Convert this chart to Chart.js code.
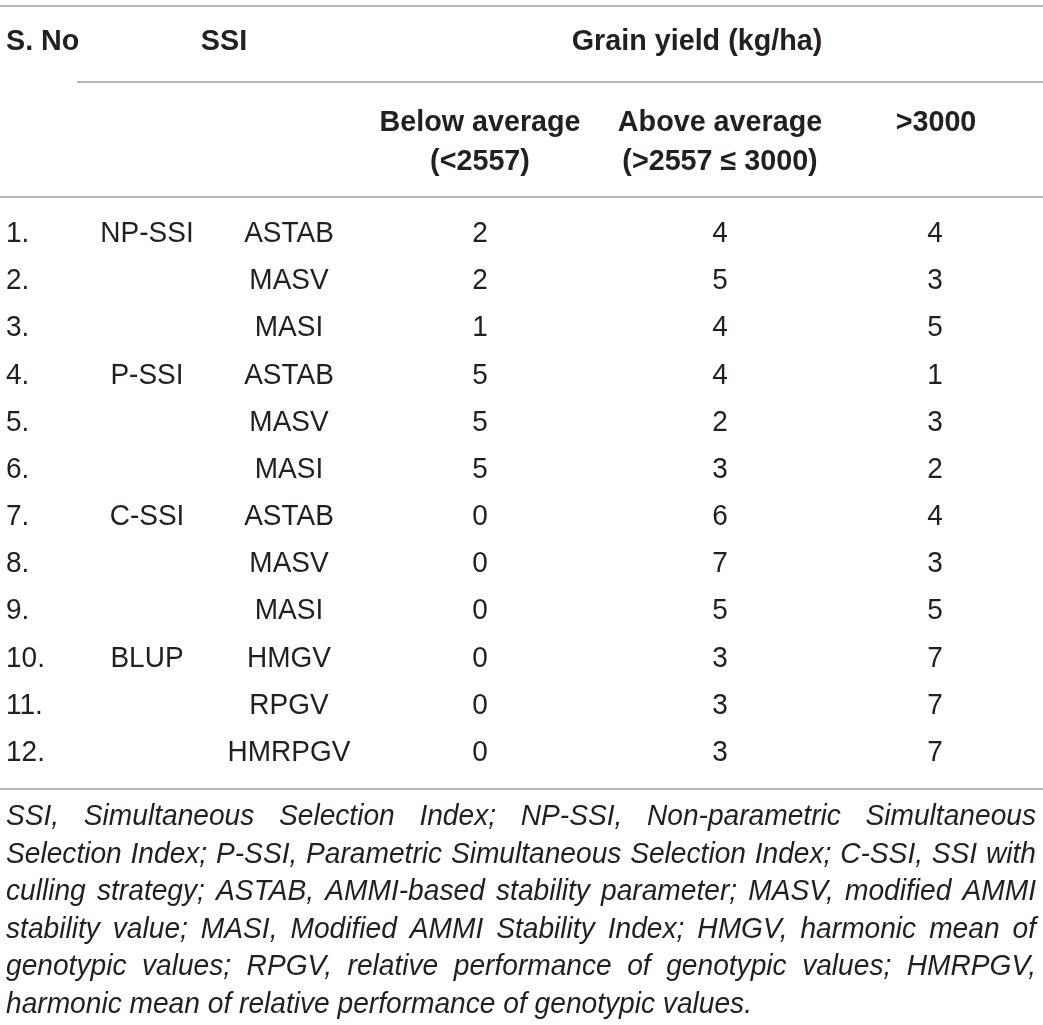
<!DOCTYPE html>
<html>
<head>
<meta charset="utf-8">
<script src="https://cdn.jsdelivr.net/npm/chart.js@4"></script>
<style>
  html, body { margin: 0; padding: 0; background: #ffffff; }
  #wrap { position: relative; width: 1043px; height: 1025px; }
  canvas { display: block; }
</style>
</head>
<body>
<div id="wrap"><canvas id="c" width="1043" height="1025"></canvas></div>
<script>
// ---------------- DATA ----------------
const serialNos   = ['1.', '2.', '3.', '4.', '5.', '6.', '7.', '8.', '9.', '10.', '11.', '12.'];
const ssiGroups   = ['NP-SSI', '', '', 'P-SSI', '', '', 'C-SSI', '', '', 'BLUP', '', ''];
const ssiIndices  = ['ASTAB', 'MASV', 'MASI', 'ASTAB', 'MASV', 'MASI', 'ASTAB', 'MASV', 'MASI', 'HMGV', 'RPGV', 'HMRPGV'];
const belowAverage = [2, 2, 1, 5, 5, 5, 0, 0, 0, 0, 0, 0];
const aboveAverage = [4, 5, 4, 4, 2, 3, 6, 7, 5, 3, 3, 3];
const above3000    = [4, 3, 5, 1, 3, 2, 4, 3, 5, 7, 7, 7];

const headSerial  = 'S. No';
const headSSI     = 'SSI';
const headGroup   = 'Grain yield (kg/ha)';
const headBelow   = ['Below average', '(<2557)'];
const headAbove   = ['Above average', '(>2557 \u2264 3000)'];
const headTop     = ['>3000'];

const footnoteLines = [
  'SSI, Simultaneous Selection Index; NP-SSI, Non-parametric Simultaneous',
  'Selection Index; P-SSI, Parametric Simultaneous Selection Index; C-SSI, SSI with',
  'culling strategy; ASTAB, AMMI-based stability parameter; MASV, modified AMMI',
  'stability value; MASI, Modified AMMI Stability Index; HMGV, harmonic mean of',
  'genotypic values; RPGV, relative performance of genotypic values; HMRPGV,',
  'harmonic mean of relative performance of genotypic values.'
];

// ---------------- LAYOUT (styles, not data) ----------------
const W = 1043, H = 1025;
const colX = { serial: 6, group: 147, index: 289, below: 480, above: 720, top: 935 };
const TEXT = '#231f20';
const RULE = '#a0a0a0';
const FONT = '"Liberation Sans", Arial, Helvetica, sans-serif';
const FS = 29;
const REG_SQ = 0.965;
const BOLD_SQ = 0.99;

function pts(values, x) {
  return values.map((v, i) => ({ x: x, y: serialNos[i], t: String(v) }));
}

const datasets = [
  { label: 'serial', data: pts(serialNos, colX.serial), align: 'left' },
  { label: 'group',  data: pts(ssiGroups, colX.group), align: 'center' },
  { label: 'index',  data: pts(ssiIndices, colX.index), align: 'center' },
  { label: 'below',  data: pts(belowAverage, colX.below), align: 'center' },
  { label: 'above',  data: pts(aboveAverage, colX.above), align: 'center' },
  { label: 'top',    data: pts(above3000, colX.top), align: 'center' }
].map(d => Object.assign(d, { pointRadius: 0, pointHoverRadius: 0, showLine: false }));

function hline(ctx, x1, x2, y) {
  ctx.save();
  ctx.strokeStyle = RULE;
  ctx.lineWidth = 1.6;
  ctx.beginPath();
  ctx.moveTo(x1, y);
  ctx.lineTo(x2, y);
  ctx.stroke();
  ctx.restore();
}

function drawText(ctx, txt, x, y, align, font, sq) {
  ctx.save();
  ctx.font = font;
  ctx.fillStyle = TEXT;
  ctx.textAlign = align;
  ctx.textBaseline = 'middle';
  ctx.translate(x, y);
  ctx.scale(sq, 1);
  ctx.fillText(txt, 0, 0);
  ctx.restore();
}

const tablePlugin = {
  id: 'tableText',
  afterDatasetsDraw(chart) {
    const ctx = chart.ctx;
    const xs = chart.scales.x;
    const px = v => xs.getPixelForValue(v);
    const bold = 'bold ' + FS + 'px ' + FONT;
    const reg = FS + 'px ' + FONT;

    // rules
    hline(ctx, 0, W, 6);
    hline(ctx, 77, W, 82);
    hline(ctx, 0, W, 197);
    hline(ctx, 0, W, 789);

    // header
    drawText(ctx, headSerial, px(colX.serial), 42, 'left', bold, BOLD_SQ);
    drawText(ctx, headSSI, 224, 42, 'center', bold, BOLD_SQ);
    drawText(ctx, headGroup, 697, 42, 'center', bold, BOLD_SQ);
    [[headBelow, colX.below], [headAbove, colX.above], [headTop, colX.top + 1]].forEach(([lines, x]) => {
      lines.forEach((l, k) => drawText(ctx, l, px(x), 123 + k * 39, 'center', bold, BOLD_SQ));
    });

    // body cells from dataset elements
    chart.data.datasets.forEach((ds, di) => {
      const meta = chart.getDatasetMeta(di);
      meta.data.forEach((el, i) => {
        const t = ds.data[i].t;
        if (!t) return;
        drawText(ctx, t, el.x, el.y, ds.align, reg, REG_SQ);
      });
    });

    // footnote (justified)
    ctx.save();
    ctx.fillStyle = TEXT;
    ctx.textBaseline = 'middle';
    ctx.font = 'italic ' + FS + 'px ' + FONT;
    const lastW = ctx.measureText(footnoteLines[footnoteLines.length - 1]).width;
    const squeeze = Math.min(1, 746 / lastW);
    const left = 6, right = 1036;
    footnoteLines.forEach((line, li) => {
      const y = 817 + li * 37.6;
      const words = line.split(' ');
      const ww = words.map(w => ctx.measureText(w).width * squeeze);
      const total = ww.reduce((a, b) => a + b, 0);
      const isLast = li === footnoteLines.length - 1;
      const space = ctx.measureText(' ').width * squeeze;
      let gap = isLast ? space : (right - left - total) / (words.length - 1);
      let f = squeeze;
      if (gap < space * 0.6) {
        f = squeeze * (right - left - space * 0.6 * (words.length - 1)) / total;
        gap = space * 0.6;
      }
      let x = left;
      words.forEach((w) => {
        ctx.save();
        ctx.translate(x, y);
        ctx.scale(f, 1);
        ctx.fillText(w, 0, 0);
        ctx.restore();
        x += ctx.measureText(w).width * f + gap;
      });
    });
    ctx.restore();
  }
};

new Chart(document.getElementById('c'), {
  type: 'scatter',
  data: { datasets: datasets },
  options: {
    responsive: false,
    animation: false,
    events: [],
    layout: { padding: { left: 0, right: 0, top: 210.4, bottom: H - 776.6 } },
    plugins: { legend: { display: false }, tooltip: { enabled: false }, title: { display: false } },
    scales: {
      x: { type: 'linear', min: 0, max: W, display: false },
      y: { type: 'category', labels: serialNos, offset: true, display: false }
    }
  },
  plugins: [tablePlugin]
});
</script>
</body>
</html>
